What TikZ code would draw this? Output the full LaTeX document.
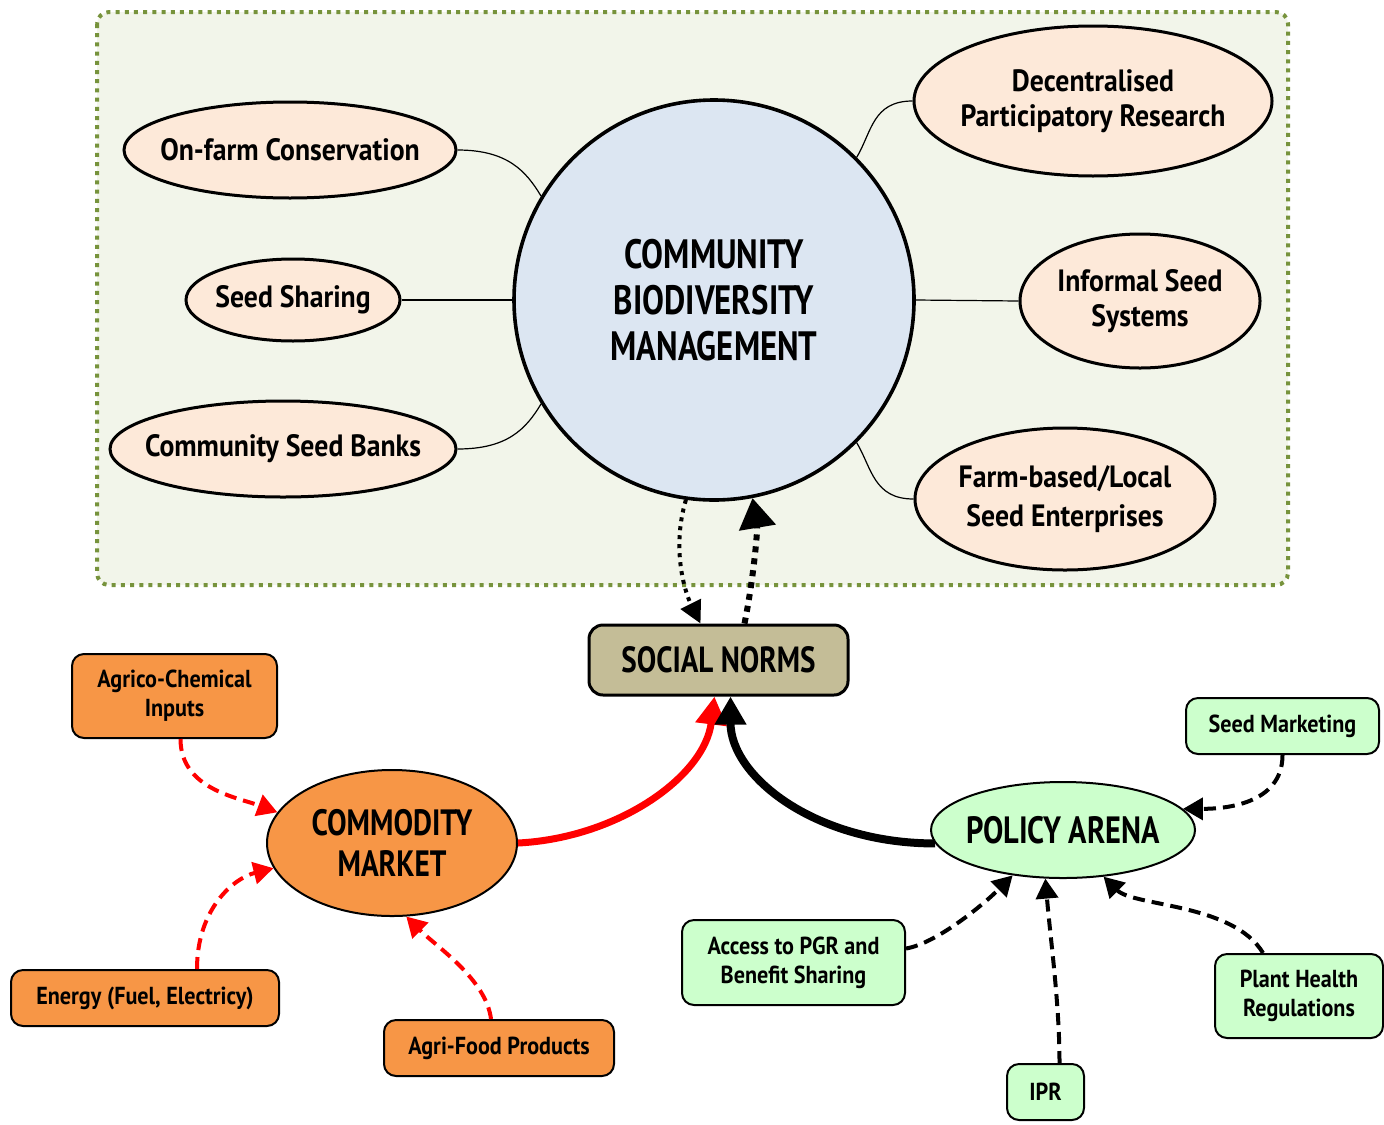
\documentclass[tikz,border=0pt]{standalone}
\usepackage{fontspec}
\setmainfont{PT Sans}[FakeStretch=0.9]
\newfontfamily\capsfont{PT Sans}[FakeStretch=0.8]
\usetikzlibrary{shapes.geometric,arrows.meta}
\definecolor{zone}{HTML}{F2F5EA}
\definecolor{zoneline}{HTML}{77933C}
\definecolor{hubfill}{HTML}{DCE6F2}
\definecolor{peach}{HTML}{FDE9D9}
\definecolor{tan}{HTML}{C4BD97}
\definecolor{mktorange}{HTML}{F79646}
\definecolor{polgreen}{HTML}{CCFFCC}
\newcommand\bubtext[1]{\makebox[0pt]{\raisebox{-1.5pt}{\shortstack{#1}}}}
\begin{document}
\begin{tikzpicture}[x=0.5pt,y=-0.5pt,
		bubble/.style={ellipse,draw,line width=1.5pt,fill=peach,inner sep=0pt,font=\bfseries\fontsize{15.4}{18}\selectfont},
		hub/.style={circle,draw,line width=1.8pt,fill=hubfill,minimum size=200pt,align=center,font=\capsfont\bfseries\fontsize{20.5}{23}\selectfont},
		mkt/.style={draw,line width=1pt,rounded corners=6pt,fill=mktorange,align=center,font=\bfseries\fontsize{12.3}{14.5}\selectfont},
		pol/.style={draw,line width=1pt,rounded corners=6pt,fill=polgreen,align=center,font=\bfseries\fontsize{12.3}{14.5}\selectfont},
		link/.style={line width=0.6pt},
		redarr/.style={red,line width=2pt,dash pattern=on 6pt off 3.5pt,-{Triangle[length=10pt,width=11pt]}},
		blkarr/.style={black,line width=2pt,dash pattern=on 6pt off 3.5pt,-{Triangle[length=10pt,width=11pt]}}]
	\useasboundingbox (0,0) rectangle (1384,1124);
	% dotted zone
	\draw[zoneline,fill=zone,line width=2pt,dash pattern=on 2pt off 2.6pt,rounded corners=6pt] (97,12) rectangle (1288,585);
	% hub and bubbles
	\node[hub] (cbm) at (714,300) {COMMUNITY\\BIODIVERSITY\\MANAGEMENT};
	\node[bubble,minimum width=166pt,minimum height=48pt] (onfarm) at (290,150) {\bubtext{On-farm Conservation}};
	\node[bubble,minimum width=107pt,minimum height=41pt] (sharing) at (293,300) {\bubtext{Seed Sharing}};
	\node[bubble,minimum width=173pt,minimum height=48pt] (banks) at (283,449) {\bubtext{Community Seed Banks}};
	\node[bubble,minimum width=179pt,minimum height=75pt] (dpr) at (1093,101) {\bubtext{Decentralised\\[3.5pt]Participatory Research}};
	\node[bubble,minimum width=120pt,minimum height=67pt] (informal) at (1140,301) {\bubtext{Informal Seed\\[3.5pt]Systems}};
	\node[bubble,minimum width=150pt,minimum height=71pt] (farmbased) at (1065,499) {\bubtext{Farm-based/Local\\[3.5pt]Seed Enterprises}};
	\draw[link] (onfarm.east) .. controls +(50,0) and +(-15,-25) .. (cbm.149);
	\draw[link] (sharing.east) -- (cbm.west);
	\draw[link] (banks.east) .. controls +(50,0) and +(-15,25) .. (cbm.211);
	\draw[link] (dpr.west) .. controls +(-40,0) and +(15,-25) .. (cbm.45);
	\draw[link] (informal.west) -- (cbm.east);
	\draw[link] (farmbased.west) .. controls +(-40,0) and +(15,25) .. (cbm.315);
	% social norms
	\node[draw,line width=1.5pt,rounded corners=7pt,fill=tan,minimum width=129.5pt,minimum height=35pt,font=\capsfont\bfseries\fontsize{18.2}{22}\selectfont] (norms) at (718.5,660) {SOCIAL NORMS};
	\draw[line width=2pt,dash pattern=on 2pt off 2.5pt,-{Triangle[length=11pt,width=11pt]}] (cbm.262) .. controls +(-15,50) and +(-15,-30) .. ([xshift=-9pt]norms.north);
	\draw[line width=3pt,dash pattern=on 3pt off 3pt,-{Triangle[length=15pt,width=18pt]}] ([xshift=13pt]norms.north) .. controls +(10,-50) and +(5,30) .. (cbm.281);
	% commodity market
	\node[ellipse,draw,line width=1pt,fill=mktorange,minimum width=125pt,minimum height=73pt,inner sep=0pt,font=\capsfont\bfseries\fontsize{18.3}{20}\selectfont] (market) at (392,843) {\makebox[0pt]{\shortstack{COMMODITY\\[4pt]MARKET}}};
	\node[mkt,minimum width=102.5pt,minimum height=42pt] (agrico) at (174.5,696) {Agrico-Chemical\\Inputs};
	\node[mkt,minimum width=134pt,minimum height=28pt] (energy) at (145,998) {Energy (Fuel, Electricy)};
	\node[mkt,minimum width=115pt,minimum height=28pt] (agrifood) at (499,1048) {Agri-Food Products};
	\draw[redarr] ([xshift=3pt]agrico.south) .. controls +(0,50) and +(-40,-15) .. (market.165);
	\draw[redarr] ([xshift=26pt]energy.north) .. controls +(0,-60) and +(-40,10) .. (market.192);
	\draw[redarr] ([xshift=-4pt]agrifood.north) .. controls +(-5,-40) and +(30,30) .. (market.281);
	\draw[red,line width=3.5pt,-{Triangle[length=14pt,width=15pt]}] (market.east) .. controls +(100,-5) and +(-10,80) .. ([xshift=-2pt]norms.south);
	% policy arena
	\node[ellipse,draw,line width=1pt,fill=polgreen,minimum width=132pt,minimum height=48pt,inner sep=0pt,font=\capsfont\bfseries\fontsize{19}{20}\selectfont] (policy) at (1063,830) {\makebox[0pt]{POLICY ARENA}};
	\node[pol,minimum width=96.5pt,minimum height=28pt] (seedmkt) at (1282.5,726) {Seed Marketing};
	\node[pol,minimum width=111.5pt,minimum height=42.5pt] (access) at (793.5,962.5) {Access to PGR and\\Benefit Sharing};
	\node[pol,minimum width=38.5pt,minimum height=28pt] (ipr) at (1045.5,1092) {IPR};
	\node[pol,minimum width=84pt,minimum height=42pt] (plant) at (1299,996) {Plant Health\\Regulations};
	\draw[line width=4pt,-{Triangle[length=14pt,width=15pt]}] (policy.186) .. controls +(-120,0) and +(0,80) .. ([xshift=6pt]norms.south);
	\draw[blkarr] (seedmkt.south) .. controls +(0,50) and +(40,0) .. (policy.10);
	\draw[blkarr] ([yshift=7pt]access.east) .. controls +(30,-5) and +(-30,30) .. (policy.222);
	\draw[blkarr] ([xshift=7pt]ipr.north) .. controls +(0,-60) and +(5,60) .. (policy.250);
	\draw[blkarr] ([xshift=-18pt]plant.north) .. controls +(-30,-50) and +(30,30) .. (policy.311);
\end{tikzpicture}
\end{document}
